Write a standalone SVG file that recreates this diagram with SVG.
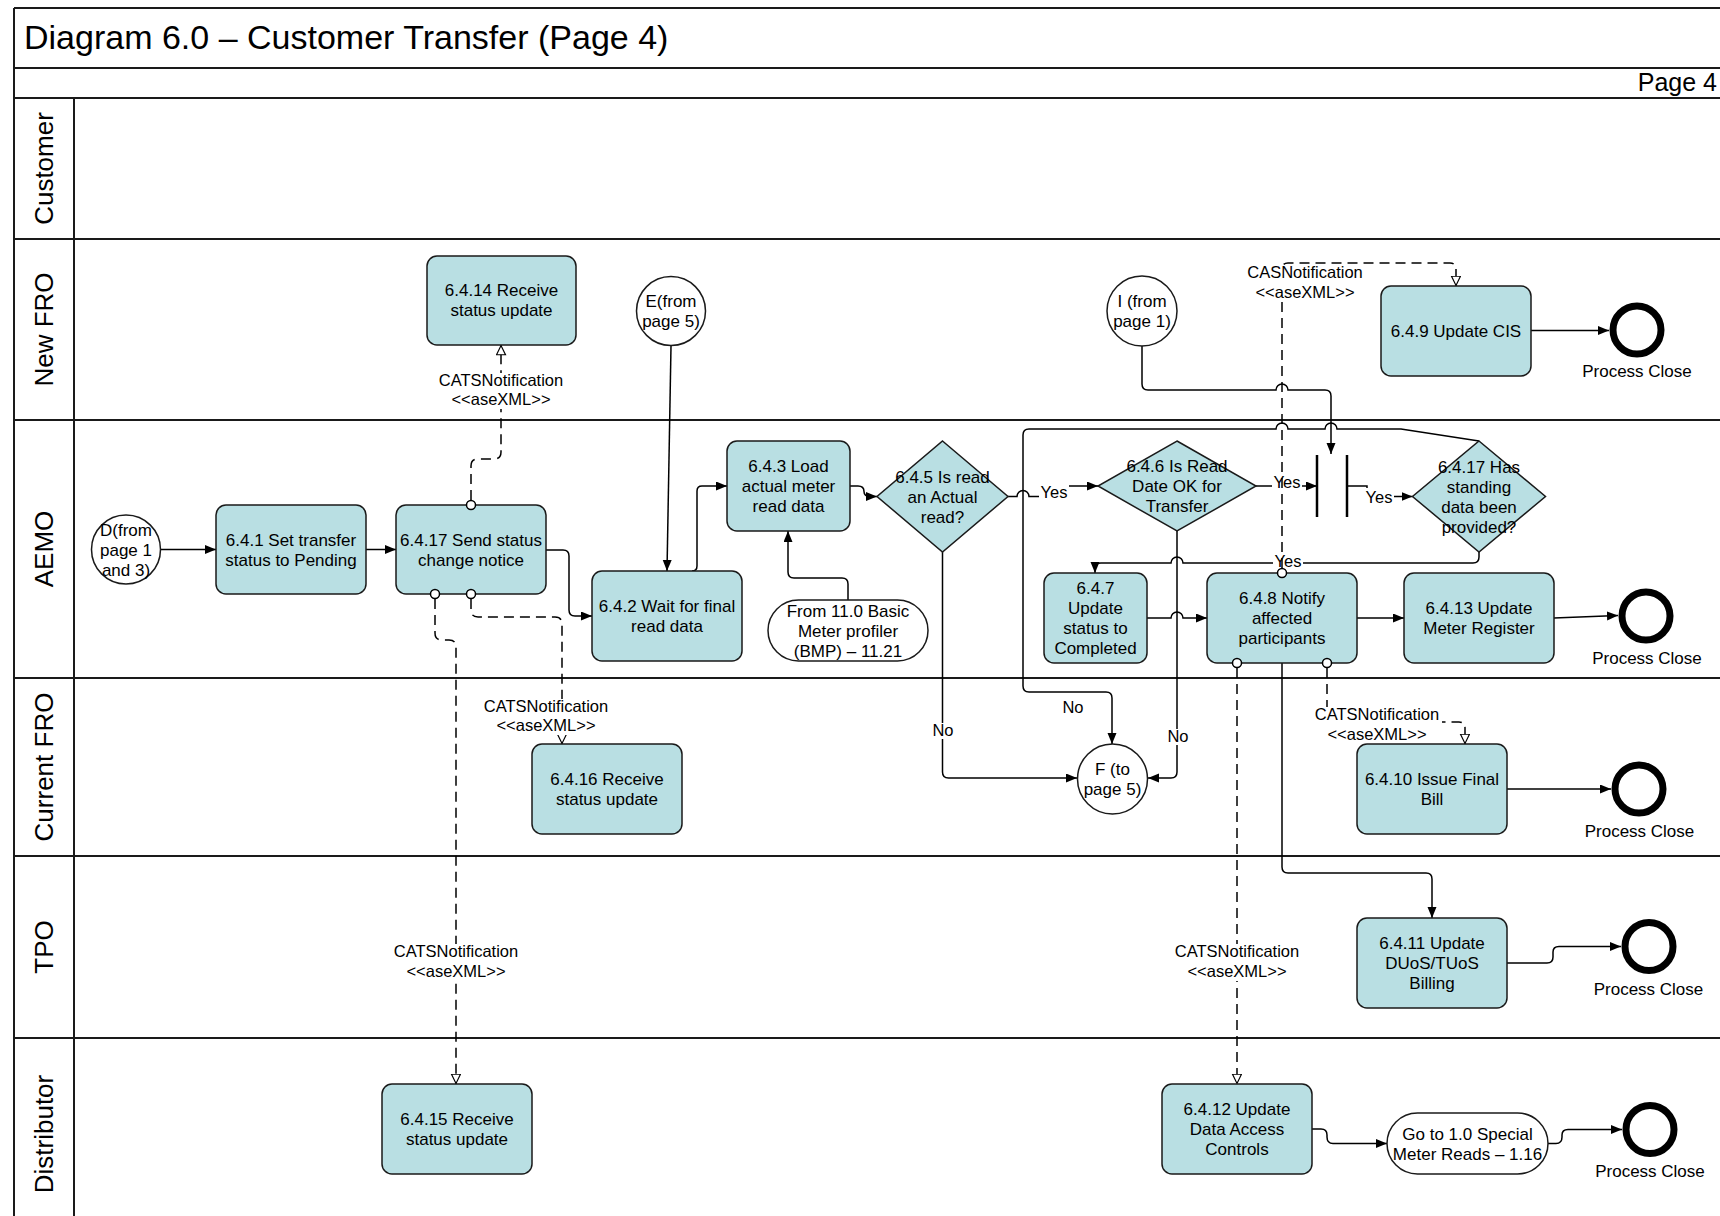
<svg xmlns="http://www.w3.org/2000/svg" width="1720" height="1216" viewBox="0 0 1720 1216">
<defs>
<style>
text { font-family: "Liberation Sans", Arial, sans-serif; fill: #000; }
.t { font-size: 17px; text-anchor: middle; }
.lbl { font-size: 16.5px; text-anchor: middle; }
.lane { stroke: #1a1a1a; stroke-width: 2; fill: none; }
.laneTxt { font-size: 26px; text-anchor: middle; }
.box { fill: #b9dfe3; stroke: #1a1a1a; stroke-width: 1.5; }
.term { fill: #fff; stroke: #1a1a1a; stroke-width: 1.5; }
.end { fill: #fff; stroke: #000; stroke-width: 7; }
.flow { fill: none; stroke: #000; stroke-width: 1.5; marker-end: url(#arr); }
.msg { fill: none; stroke: #000; stroke-width: 1.5; stroke-dasharray: 10 6; marker-end: url(#harr); }
.port { fill: #fff; stroke: #000; stroke-width: 1.5; }
.bg { fill: #fff; }
.bar { stroke: #000; stroke-width: 2.5; }
</style>
<marker id="arr" markerWidth="12" markerHeight="10" refX="11" refY="4.5" orient="auto" markerUnits="userSpaceOnUse">
<path d="M0,0 L11,4.5 L0,9 z" fill="#000"/>
</marker>
<marker id="harr" markerWidth="12" markerHeight="12" refX="10.5" refY="5" orient="auto" markerUnits="userSpaceOnUse">
<path d="M0.75,0.5 L10,5 L0.75,9.5 z" fill="#fff" stroke="#000" stroke-width="1.2" stroke-dasharray="none"/>
</marker>
</defs>

<rect x="0" y="0" width="1720" height="1216" fill="#fff"/>

<!-- frame, title bar and swimlanes -->
<g id="frame">
<path class="lane" d="M14,8 H1720 M14,68 H1720 M14,98 H1720 M14,239 H1720 M14,420 H1720 M14,678 H1720 M14,856 H1720 M14,1038 H1720 M14,8 V1216 M74,98 V1216"/>
<text x="24" y="49" font-size="34">Diagram 6.0 – Customer Transfer (Page 4)</text>
<text x="1717" y="91" font-size="25" text-anchor="end">Page 4</text>
<text class="laneTxt" transform="translate(53,168.5) rotate(-90)">Customer</text>
<text class="laneTxt" transform="translate(53,329.5) rotate(-90)">New FRO</text>
<text class="laneTxt" transform="translate(53,549) rotate(-90)">AEMO</text>
<text class="laneTxt" transform="translate(53,767) rotate(-90)">Current FRO</text>
<text class="laneTxt" transform="translate(53,947) rotate(-90)">TPO</text>
<text class="laneTxt" transform="translate(53,1134) rotate(-90)">Distributor</text>
</g>

<!-- connectors -->
<g id="connectors">
<!-- sequence flows -->
<path class="flow" d="M160.5,549.5 H216"/>
<path class="flow" d="M366,549.5 H396"/>
<path class="flow" d="M546,550 H563 Q569,550 569,556 V610 Q569,616 575,616 H592"/>
<path class="flow" d="M671,346 L667,571"/>
<path class="flow" d="M692,571 Q697,571 697,566 V491 Q697,486 702,486 H727"/>
<path class="flow" d="M848,600 V584 Q848,578 842,578 H794 Q788,578 788,572 V531"/>
<path class="flow" d="M850,486 H858 Q864,486 864,491.5 Q864,496.5 870,496.5 H877"/>
<path class="flow" d="M1008,496.5 H1017 a6,6 0 0 1 12,0 H1046 V486 H1098"/>
<path class="flow" d="M942.5,552 V772 Q942.5,778 948.5,778 H1077"/>
<path class="flow" d="M1177,531 V772 Q1177,778 1171,778 H1148"/>
<path class="flow" d="M1479,441 L1401,429 H1337 a6,6 0 0 0 -12,0 H1288 a6,6 0 0 0 -12,0 H1029 Q1023,429 1023,435 V686 Q1023,692 1029,692 H1106 Q1112,692 1112,698 V744"/>
<path class="flow" d="M1142,346 V384 Q1142,390 1148,390 H1276 a6,6 0 0 1 12,0 H1325 Q1331,390 1331,396 V454"/>
<path class="flow" d="M1256,486 H1317"/>
<path class="flow" d="M1347,486 H1367 V496.5 H1412.5"/>
<path class="flow" d="M1479,552 V557 Q1479,563 1473,563 H1183 a6,6 0 0 0 -12,0 H1101 Q1095,563 1095,568 V573"/>
<path class="flow" d="M1147,618 H1171 a6,6 0 0 1 12,0 H1207"/>
<path class="flow" d="M1357,618 H1404"/>
<path class="flow" d="M1554,618 L1618,615.5"/>
<path class="flow" d="M1531,330.5 H1609"/>
<path class="flow" d="M1507,789 H1611"/>
<path class="flow" d="M1282,663 V867 Q1282,873 1288,873 H1426 Q1432,873 1432,879 V918"/>
<path class="flow" d="M1507,963 H1547 Q1553,963 1553,957 V952 Q1553,946.5 1559,946.5 H1621"/>
<path class="flow" d="M1312,1129 H1321 Q1327,1129 1327,1135 V1137 Q1327,1143.5 1333,1143.5 H1387"/>
<path class="flow" d="M1548,1143.5 H1556 Q1562,1143.5 1562,1137 V1135 Q1562,1129.5 1568,1129.5 H1622"/>

<!-- gateway labels -->
<rect class="bg" x="1039" y="485" width="30" height="16"/>
<text class="lbl" x="1054" y="498">Yes</text>
<rect class="bg" x="1272" y="475" width="30" height="16"/>
<text class="lbl" x="1287" y="488">Yes</text>
<rect class="bg" x="1364" y="488" width="30" height="17"/>
<text class="lbl" x="1379" y="503">Yes</text>
<rect class="bg" x="1273" y="554" width="30" height="16"/>
<text class="lbl" x="1288" y="567">Yes</text>
<rect class="bg" x="932" y="723" width="22" height="16"/>
<text class="lbl" x="943" y="736">No</text>
<rect class="bg" x="1167" y="729" width="22" height="16"/>
<text class="lbl" x="1178" y="742">No</text>
<text class="lbl" x="1073" y="713">No</text>

<!-- message flows -->
<path class="msg" d="M471,500 V466 Q471,459 478,459 H494 Q501,459 501,452 V345"/>
<path class="msg" d="M435,599 V633 Q435,640 442,640 H449 Q456,640 456,647 V1084"/>
<path class="msg" d="M471,599 V610 Q471,617 478,617 H555 Q562,617 562,624 V744"/>
<path class="msg" d="M1282,568 V269 Q1282,263 1288,263 H1450 Q1456,263 1456,269 V286"/>
<path class="msg" d="M1237,668 V1084"/>
<path class="msg" d="M1327,668 V716 Q1327,722 1333,722 H1459 Q1465,722 1465,728 V744"/>

<rect class="bg" x="436" y="373" width="130" height="36"/>
<text class="lbl"><tspan x="501" y="386">CATSNotification</tspan><tspan x="501" y="405">&lt;&lt;aseXML&gt;&gt;</tspan></text>
<rect class="bg" x="481" y="699" width="130" height="36"/>
<text class="lbl"><tspan x="546" y="712">CATSNotification</tspan><tspan x="546" y="731">&lt;&lt;aseXML&gt;&gt;</tspan></text>
<rect class="bg" x="391" y="944" width="130" height="37"/>
<text class="lbl"><tspan x="456" y="957">CATSNotification</tspan><tspan x="456" y="977">&lt;&lt;aseXML&gt;&gt;</tspan></text>
<rect class="bg" x="1172" y="944" width="130" height="37"/>
<text class="lbl"><tspan x="1237" y="957">CATSNotification</tspan><tspan x="1237" y="977">&lt;&lt;aseXML&gt;&gt;</tspan></text>
<rect class="bg" x="1312" y="707" width="130" height="37"/>
<text class="lbl"><tspan x="1377" y="720">CATSNotification</tspan><tspan x="1377" y="740">&lt;&lt;aseXML&gt;&gt;</tspan></text>
<rect class="bg" x="1244" y="266" width="122" height="36"/>
<text class="lbl"><tspan x="1305" y="278">CASNotification</tspan><tspan x="1305" y="298">&lt;&lt;aseXML&gt;&gt;</tspan></text>
</g>

<!-- New FRO lane -->
<g id="n6414">
<rect class="box" x="427" y="256" width="149" height="89" rx="10"/>
<text class="t"><tspan x="501.5" y="296">6.4.14 Receive</tspan><tspan x="501.5" y="316">status update</tspan></text>
</g>
<g id="connE">
<circle class="term" cx="671" cy="311" r="34.5"/>
<text class="t"><tspan x="671" y="307">E(from</tspan><tspan x="671" y="327">page 5)</tspan></text>
</g>
<g id="connI">
<circle class="term" cx="1142" cy="311" r="35"/>
<text class="t"><tspan x="1142" y="307">I (from</tspan><tspan x="1142" y="327">page 1)</tspan></text>
</g>
<g id="n649">
<rect class="box" x="1381" y="286" width="150" height="90" rx="10"/>
<text class="t" x="1456" y="337">6.4.9 Update CIS</text>
</g>
<g id="endNewFRO">
<circle class="end" cx="1637" cy="330" r="24"/>
<text class="t" x="1637" y="377">Process Close</text>
</g>

<!-- AEMO lane -->
<g id="connD">
<circle class="term" cx="126" cy="549.5" r="34.5"/>
<text class="t"><tspan x="126" y="535.5">D(from</tspan><tspan x="126" y="555.5">page 1</tspan><tspan x="126" y="575.5">and 3)</tspan></text>
</g>
<g id="n641">
<rect class="box" x="216" y="505" width="150" height="89" rx="10"/>
<text class="t"><tspan x="291" y="545.5">6.4.1 Set transfer</tspan><tspan x="291" y="565.5">status to Pending</tspan></text>
</g>
<g id="n6417send">
<rect class="box" x="396" y="505" width="150" height="89" rx="10"/>
<text class="t"><tspan x="471" y="545.5">6.4.17 Send status</tspan><tspan x="471" y="565.5">change notice</tspan></text>
<circle class="port" cx="471" cy="505" r="4.5"/>
<circle class="port" cx="435" cy="594" r="4.5"/>
<circle class="port" cx="471" cy="594" r="4.5"/>
</g>
<g id="n642">
<rect class="box" x="592" y="571" width="150" height="90" rx="10"/>
<text class="t"><tspan x="667" y="612">6.4.2 Wait for final</tspan><tspan x="667" y="632">read data</tspan></text>
</g>
<g id="n643">
<rect class="box" x="727" y="441" width="123" height="90" rx="10"/>
<text class="t"><tspan x="788.5" y="472">6.4.3 Load</tspan><tspan x="788.5" y="492">actual meter</tspan><tspan x="788.5" y="512">read data</tspan></text>
</g>
<g id="refBMP">
<rect class="term" x="768" y="600" width="160" height="61" rx="30.5"/>
<text class="t"><tspan x="848" y="616.5">From 11.0 Basic</tspan><tspan x="848" y="636.5">Meter profiler</tspan><tspan x="848" y="656.5">(BMP) – 11.21</tspan></text>
</g>
<g id="d645">
<polygon class="box" points="942.5,441 1008,496.5 942.5,552 877,496.5"/>
<text class="t"><tspan x="942.5" y="482.5">6.4.5 Is read</tspan><tspan x="942.5" y="502.5">an Actual</tspan><tspan x="942.5" y="522.5">read?</tspan></text>
</g>
<g id="d646">
<polygon class="box" points="1177,441 1256,486 1177,531 1098,486"/>
<text class="t"><tspan x="1177" y="472">6.4.6 Is Read</tspan><tspan x="1177" y="492">Date OK for</tspan><tspan x="1177" y="512">Transfer</tspan></text>
</g>
<g id="join">
<line class="bar" x1="1317" y1="455" x2="1317" y2="517"/>
<line class="bar" x1="1347" y1="455" x2="1347" y2="517"/>
</g>
<g id="d6417has">
<polygon class="box" points="1479,441 1545.5,496.5 1479,552 1412.5,496.5"/>
<text class="t"><tspan x="1479" y="472.5">6.4.17 Has</tspan><tspan x="1479" y="492.5">standing</tspan><tspan x="1479" y="512.5">data been</tspan><tspan x="1479" y="532.5">provided?</tspan></text>
</g>
<g id="n647">
<rect class="box" x="1044" y="573" width="103" height="90" rx="10"/>
<text class="t"><tspan x="1095.5" y="594">6.4.7</tspan><tspan x="1095.5" y="614">Update</tspan><tspan x="1095.5" y="634">status to</tspan><tspan x="1095.5" y="654">Completed</tspan></text>
</g>
<g id="n648">
<rect class="box" x="1207" y="573" width="150" height="90" rx="10"/>
<text class="t"><tspan x="1282" y="604">6.4.8 Notify</tspan><tspan x="1282" y="624">affected</tspan><tspan x="1282" y="644">participants</tspan></text>
<circle class="port" cx="1282" cy="573" r="4.5"/>
<circle class="port" cx="1237" cy="663" r="4.5"/>
<circle class="port" cx="1327" cy="663" r="4.5"/>
</g>
<g id="n6413">
<rect class="box" x="1404" y="573" width="150" height="90" rx="10"/>
<text class="t"><tspan x="1479" y="614">6.4.13 Update</tspan><tspan x="1479" y="634">Meter Register</tspan></text>
</g>
<g id="endAEMO">
<circle class="end" cx="1646" cy="616" r="24"/>
<text class="t" x="1647" y="664">Process Close</text>
</g>

<!-- Current FRO lane -->
<g id="n6416">
<rect class="box" x="532" y="744" width="150" height="90" rx="10"/>
<text class="t"><tspan x="607" y="785">6.4.16 Receive</tspan><tspan x="607" y="805">status update</tspan></text>
</g>
<g id="connF">
<circle class="term" cx="1112.5" cy="779" r="35"/>
<text class="t"><tspan x="1112.5" y="775">F (to</tspan><tspan x="1112.5" y="795">page 5)</tspan></text>
</g>
<g id="n6410">
<rect class="box" x="1357" y="744" width="150" height="90" rx="10"/>
<text class="t"><tspan x="1432" y="785">6.4.10 Issue Final</tspan><tspan x="1432" y="805">Bill</tspan></text>
</g>
<g id="endCurFRO">
<circle class="end" cx="1639" cy="789" r="24"/>
<text class="t" x="1639.5" y="837">Process Close</text>
</g>

<!-- TPO lane -->
<g id="n6411">
<rect class="box" x="1357" y="918" width="150" height="90" rx="10"/>
<text class="t"><tspan x="1432" y="949">6.4.11 Update</tspan><tspan x="1432" y="969">DUoS/TUoS</tspan><tspan x="1432" y="989">Billing</tspan></text>
</g>
<g id="endTPO">
<circle class="end" cx="1649" cy="946.5" r="24"/>
<text class="t" x="1648.5" y="995">Process Close</text>
</g>

<!-- Distributor lane -->
<g id="n6415">
<rect class="box" x="382" y="1084" width="150" height="90" rx="10"/>
<text class="t"><tspan x="457" y="1125">6.4.15 Receive</tspan><tspan x="457" y="1145">status update</tspan></text>
</g>
<g id="n6412">
<rect class="box" x="1162" y="1084" width="150" height="90" rx="10"/>
<text class="t"><tspan x="1237" y="1115">6.4.12 Update</tspan><tspan x="1237" y="1135">Data Access</tspan><tspan x="1237" y="1155">Controls</tspan></text>
</g>
<g id="refSpecialReads">
<rect class="term" x="1387" y="1113" width="161" height="61" rx="30.5"/>
<text class="t"><tspan x="1467.5" y="1139.5">Go to 1.0 Special</tspan><tspan x="1467.5" y="1159.5">Meter Reads – 1.16</tspan></text>
</g>
<g id="endDistributor">
<circle class="end" cx="1650" cy="1129.5" r="24"/>
<text class="t" x="1650" y="1177">Process Close</text>
</g>
</svg>
